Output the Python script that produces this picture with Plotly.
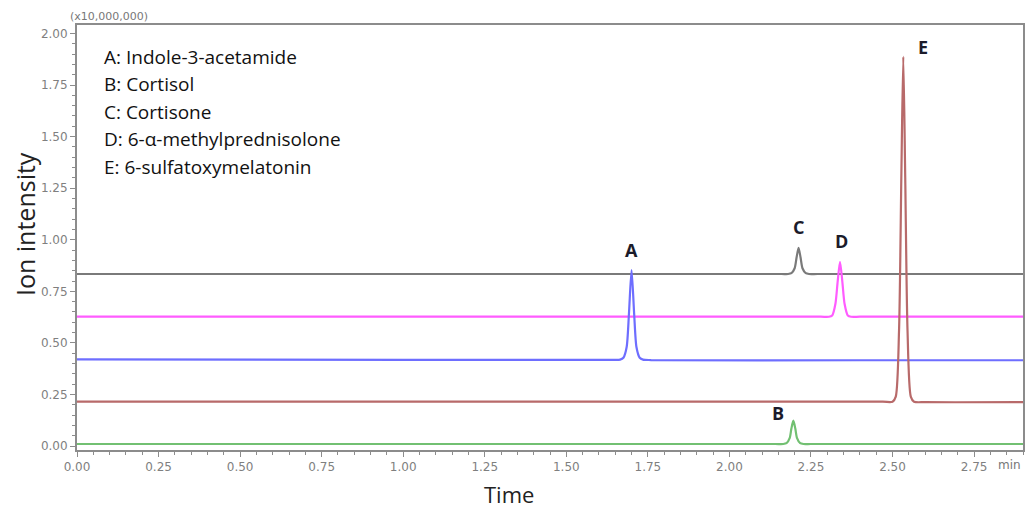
import plotly.graph_objects as go

# ---- data ----
# Retention time grid around each peak (min) and ion intensity (x10,000,000)
time_A = [0.00, 1.00, 1.64, 1.665, 1.675, 1.685, 1.692, 1.70, 1.708, 1.715, 1.725, 1.735, 1.76, 2.40, 2.90]
ion_A = [0.420, 0.418, 0.418, 0.419, 0.428, 0.480, 0.640, 0.853, 0.640, 0.480, 0.428, 0.419, 0.417, 0.416, 0.416]

time_B = [0.00, 1.00, 2.14, 2.165, 2.175, 2.185, 2.19, 2.196, 2.202, 2.207, 2.217, 2.227, 2.25, 2.90]
ion_B = [0.010, 0.010, 0.010, 0.010, 0.014, 0.040, 0.085, 0.123, 0.085, 0.040, 0.014, 0.010, 0.010, 0.010]

time_C = [0.00, 1.00, 2.16, 2.18, 2.19, 2.20, 2.206, 2.212, 2.218, 2.224, 2.234, 2.244, 2.27, 2.90]
ion_C = [0.834, 0.834, 0.834, 0.834, 0.838, 0.862, 0.915, 0.961, 0.915, 0.862, 0.838, 0.834, 0.834, 0.834]

time_D = [0.00, 1.00, 2.28, 2.305, 2.315, 2.325, 2.332, 2.339, 2.346, 2.353, 2.363, 2.373, 2.40, 2.90]
ion_D = [0.627, 0.627, 0.627, 0.627, 0.633, 0.690, 0.800, 0.893, 0.800, 0.690, 0.633, 0.627, 0.627, 0.627]

time_E = [0.00, 1.00, 2.47, 2.50, 2.51, 2.52, 2.527, 2.533, 2.539, 2.546, 2.556, 2.566, 2.60, 2.90]
ion_E = [0.215, 0.215, 0.215, 0.215, 0.240, 0.560, 1.300, 1.887, 1.300, 0.560, 0.240, 0.215, 0.213, 0.213]

peak_labels = ["A", "B", "C", "D", "E"]
label_time = [1.70, 2.148, 2.212, 2.343, 2.594]
label_ion = [0.95, 0.16, 1.06, 0.994, 1.934]

compound_lines = [
    "A: Indole-3-acetamide",
    "B: Cortisol",
    "C: Cortisone",
    "D: 6-\u03b1-methylprednisolone",
    "E: 6-sulfatoxymelatonin",
]

x_ticks = [0.00, 0.25, 0.50, 0.75, 1.00, 1.25, 1.50, 1.75, 2.00, 2.25, 2.50, 2.75]
y_ticks = [0.00, 0.25, 0.50, 0.75, 1.00, 1.25, 1.50, 1.75, 2.00]

# ---- figure ----
traces = [
    (time_C, ion_C, "#7a7a7a"),
    (time_D, ion_D, "#ff5cff"),
    (time_A, ion_A, "#6e6eff"),
    (time_E, ion_E, "#b86a6a"),
    (time_B, ion_B, "#72c072"),
]

fig = go.Figure()
for t, v, c in traces:
    fig.add_trace(go.Scatter(
        x=t, y=v, mode="lines",
        line=dict(color=c, width=2.2, shape="spline", smoothing=0.7),
        showlegend=False, hoverinfo="skip",
    ))

for lab, lt, li in zip(peak_labels, label_time, label_ion):
    fig.add_annotation(x=lt, y=li, text="<b>%s</b>" % lab, showarrow=False,
                       font=dict(family="Open Sans", size=18, color="#1b1b2a"),
                       xanchor="center", yanchor="middle")

for i, line in enumerate(compound_lines):
    fig.add_annotation(x=0.0756, y=1.887 - i * 0.1333, text=line, showarrow=False,
                       font=dict(family="Open Sans", size=19, color="#111111"),
                       xanchor="left", yanchor="middle")

fig.add_annotation(xref="paper", yref="paper", x=-0.01, y=1.0, yshift=0,
                   text="(x10,000,000)", showarrow=False, xanchor="left", yanchor="bottom",
                   font=dict(family="DejaVu Sans", size=11, color="#777777"))
fig.add_annotation(xref="paper", yref="paper", x=1.0, y=0, yshift=-15,
                   text="min", showarrow=False, xanchor="right", yanchor="middle",
                   font=dict(family="DejaVu Sans", size=12, color="#777777"))
fig.add_annotation(xref="paper", yref="paper", x=-0.0548, y=0.532,
                   text="Ion intensity", showarrow=False, textangle=-90,
                   xanchor="center", yanchor="middle",
                   font=dict(family="Open Sans", size=25, color="#222222"))
fig.add_annotation(xref="paper", yref="paper", x=0.457, y=0, yshift=-44, borderpad=0,
                   text="Time", showarrow=False, xanchor="center", yanchor="middle",
                   font=dict(family="Open Sans", size=22, color="#222222"))

axis_common = dict(
    showgrid=False, zeroline=False, showline=True, linecolor="#8c8c8c", linewidth=2,
    mirror=True, ticks="outside", ticklen=5, tickwidth=1, tickcolor="#8c8c8c",
    tickfont=dict(family="DejaVu Sans", size=12, color="#7f7f7f"),
)
fig.update_xaxes(range=[0, 2.90], tickvals=x_ticks, ticktext=["%.2f" % v for v in x_ticks],
                 minor=dict(ticks="outside", dtick=0.05, ticklen=3, tickcolor="#8c8c8c"),
                 **axis_common)
fig.update_yaxes(range=[-0.019, 2.041], tickvals=y_ticks, ticktext=["%.2f" % v for v in y_ticks],
                 minor=dict(ticks="outside", dtick=0.05, ticklen=3, tickcolor="#8c8c8c"),
                 **axis_common)

fig.update_layout(
    width=1029, height=510,
    margin=dict(l=77, r=4, t=25, b=60),
    plot_bgcolor="white", paper_bgcolor="white",
)

fig.write_html("out.html")
